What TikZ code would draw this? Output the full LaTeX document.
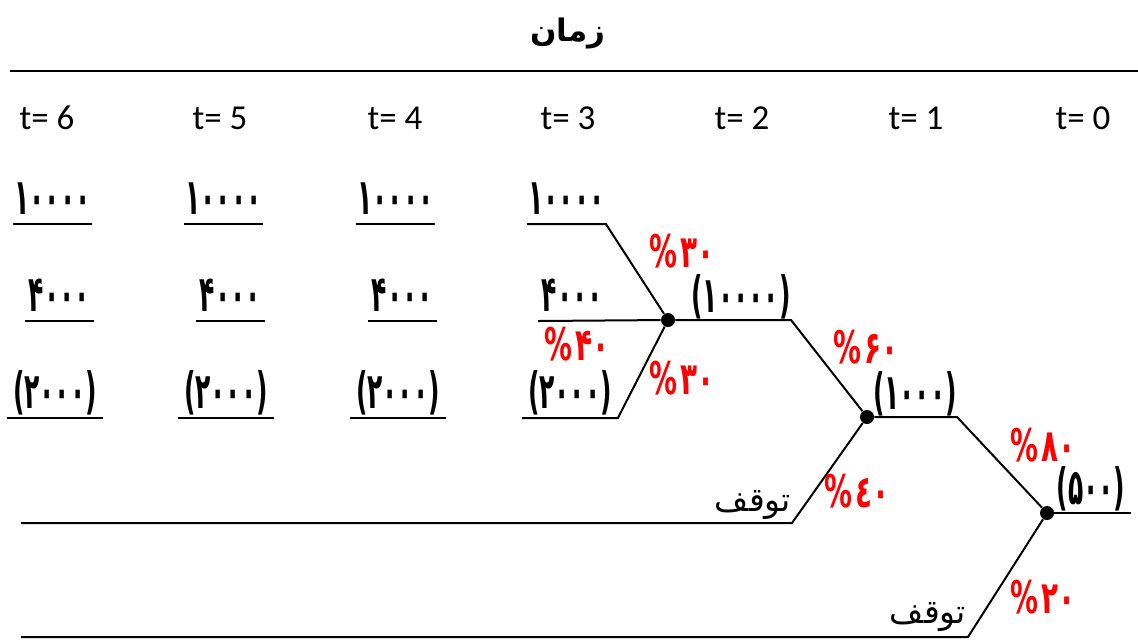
\documentclass[tikz,border=0pt]{standalone}
\usepackage{fontspec}
\setmainfont{Carlito}
\newfontfamily\arabicfont[Script=Arabic]{DejaVu Sans}
\newfontfamily\arabicbold[Script=Arabic]{DejaVu Sans Bold}
\newfontfamily\numfont[Script=Arabic,FakeStretch=0.5]{DejaVu Sans Bold}
\newfontfamily\pctfont[Script=Arabic,FakeStretch=0.62]{DejaVu Sans Bold}
\TeXXeTstate=1
\newcommand{\pc}[1]{\%\kern1.5pt\hbox{#1}}

\begin{document}
\begin{tikzpicture}[
  x=0.5pt, y=-0.5pt,
  rule/.style={line width=1pt},
  title/.style={font=\arabicbold\fontsize{15.5}{18}\selectfont},
  tlab/.style={font=\fontsize{17.5}{20}\selectfont},
  val/.style={font=\numfont\fontsize{25}{28}\selectfont, text depth=0pt,
              inner xsep=0pt, inner ysep=0pt, anchor=south},
  pct/.style={font=\pctfont\fontsize{22.5}{25}\selectfont, text=red, inner sep=0pt},
  stoplab/.style={font=\arabicfont\fontsize{16.5}{19}\selectfont, inner sep=0pt},
  dot/.style={circle, fill, inner sep=0pt, minimum size=7pt}
]
  \useasboundingbox (0,0) rectangle (1138,639);

  % header
  \node[title] (head) at (568,33) {\beginR زمان\endR};
  \coordinate (hl) at (10,71);
  \coordinate (hr) at (1138,71);
  \draw[line width=1.2pt] (hl) -- (hr);
  \foreach \t/\x in {6/47,5/220,4/395,3/568,2/742,1/916,0/1083}
    \node[tlab] (t\t) at (\x,118) {t= \t};

  % values at t=6,5,4 (underline 9px below the digits)
  \foreach \c/\x in {6/55,5/226,4/398} {
    \node[val, minimum width=39pt] (v\c1) at (\x-2.5,215) {۱۰۰۰۰};
    \node[val, minimum width=34pt] (v\c2) at (\x+4.5,312) {۴۰۰۰};
    \node[val, minimum width=47.5pt] (v\c3) at (\x,409) {(۲۰۰۰)};
    \foreach \r in {1,2,3}
      \draw[rule] ([yshift=-4.5pt]v\c\r.south west) -- ([yshift=-4.5pt]v\c\r.south east);
  }

  % tree
  \node[val, minimum width=39pt] (v31) at (566.5,215) {۱۰۰۰۰};
  \node[val, minimum width=34pt] (v32) at (572.5,312) {۴۰۰۰};
  \node[val, minimum width=47.5pt] (v33) at (570,409) {(۲۰۰۰)};
  \node[dot] (A) at (668,320) {};
  \node[dot] (B) at (867,417) {};
  \node[dot] (C) at (1047,513) {};
  \coordinate (a2) at (791,320);
  \coordinate (b2) at (957,417);
  \coordinate (c2) at (1131,513);
  \coordinate (s1) at (792,523);
  \coordinate (s1e) at (21,523);
  \coordinate (s2) at (968,637);
  \coordinate (s2e) at (21,637);

  \draw[rule] ([yshift=-4.5pt]v31.south west) -- ([yshift=-4.5pt]v31.south east) -- (A);
  \draw[rule] ([yshift=-4.5pt]v32.south west) -- (A);
  \draw[rule] ([yshift=-4.5pt]v33.south west) -- ([yshift=-4.5pt]v33.south east) -- (A);
  \draw[rule] (A) -- (a2) -- (B);
  \draw[rule] (B) -- (b2) -- (C);
  \draw[rule] (C) -- (c2);
  \draw[rule] (B) -- (s1) -- (s1e);
  \draw[rule] (C) -- (s2) -- (s2e);

  \node[val] (na) at (741,313) {(۱۰۰۰۰)};
  \node[val] (nb) at (915,410) {(۱۰۰۰)};
  \node[val] (nc) at (1091,505) {(۵۰۰)};

  \node[pct] (p1) at (682,251) {\pc{۳۰}};
  \node[pct] (p2) at (577,344) {\pc{۴۰}};
  \node[pct] (p3) at (682,378) {\pc{۳۰}};
  \node[pct] (p4) at (866,347) {\pc{۶۰}};
  \node[pct] (p5) at (857,491) {\pc{٤٠}};
  \node[pct] (p6) at (1043,445) {\pc{۸۰}};
  \node[pct] (p7) at (1043,597) {\pc{۲۰}};

  \node[stoplab] (st1) at (753,505) {\beginR توقف\endR};
  \node[stoplab] (st2) at (928,617) {\beginR توقف\endR};
\end{tikzpicture}
\end{document}
